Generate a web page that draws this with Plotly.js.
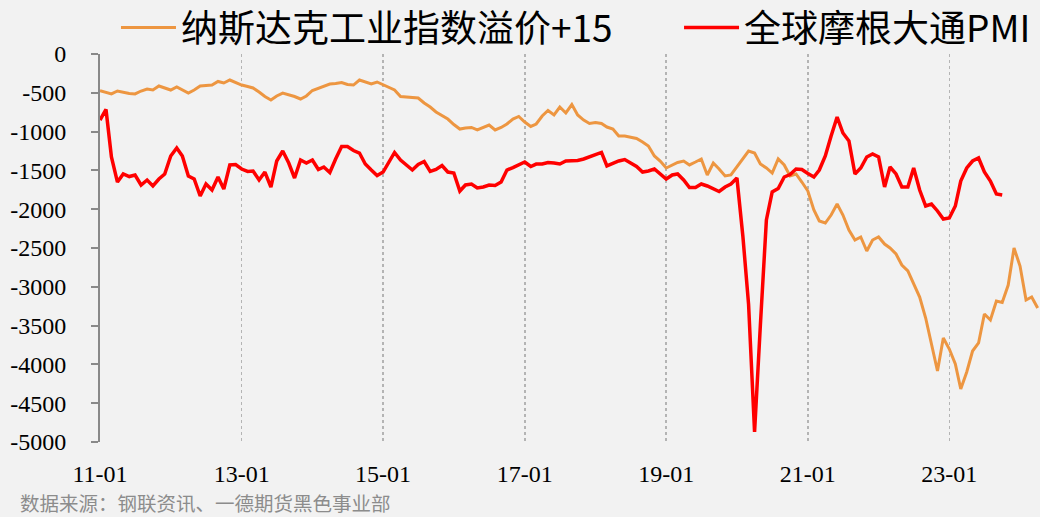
<!DOCTYPE html>
<html>
<head>
<meta charset="utf-8">
<script src="https://cdn.plot.ly/plotly-3.0.1.min.js"></script>
<style>
html,body{margin:0;padding:0;background:#f2f2f2;}
#chart{width:1040px;height:517px;}
</style>
</head>
<body>
<div id="chart"></div>
<script>
// Monthly data starting 2011-01
var startYear = 2011;
var nasdaqPremium = [
 -473,-490,-515,-477,-496,-509,-515,-477,-451,-464,-412,-438,
 -464,-425,-464,-503,-464,-412,-406,-400,-354,-374,-335,-367,
 -400,-419,-438,-490,-548,-593,-541,-503,-522,-548,-580,-541,
 -470,-438,-419,-387,-380,-367,-393,-400,-335,-361,-387,-361,
 -393,-425,-464,-548,-554,-561,-567,-631,-683,-747,-793,-838,
 -909,-967,-954,-947,-979,-947,-915,-979,-947,-902,-838,-805,
 -876,-934,-902,-799,-728,-786,-683,-760,-651,-786,-851,-896,
 -883,-896,-941,-967,-1057,-1057,-1070,-1089,-1134,-1186,-1314,-1379,
 -1469,-1437,-1398,-1379,-1430,-1392,-1353,-1559,-1405,-1482,-1572,-1559,
 -1456,-1353,-1250,-1276,-1418,-1469,-1534,-1353,-1430,-1572,-1546,-1650,
 -1766,-2010,-2152,-2178,-2075,-1933,-2075,-2268,-2397,-2358,-2539,-2397,
 -2358,-2449,-2500,-2577,-2719,-2796,-2964,-3132,-3402,-3750,-4085,-3660,
 -3802,-3995,-4317,-4098,-3827,-3724,-3351,-3428,-3183,-3202,-2977,-2500,
 -2732,-3170,-3132,-3273
];
var jpmPMI = [
 -851,-715,-1327,-1650,-1546,-1579,-1559,-1688,-1624,-1701,-1611,-1546,
 -1314,-1211,-1314,-1572,-1611,-1830,-1675,-1753,-1585,-1740,-1430,-1424,
 -1482,-1514,-1508,-1624,-1521,-1714,-1379,-1250,-1405,-1598,-1366,-1405,
 -1366,-1488,-1456,-1527,-1353,-1192,-1192,-1244,-1276,-1418,-1495,-1566,
 -1521,-1392,-1269,-1366,-1430,-1495,-1424,-1385,-1514,-1488,-1437,-1521,
 -1534,-1766,-1688,-1675,-1727,-1714,-1688,-1695,-1650,-1495,-1463,-1430,
 -1392,-1450,-1418,-1418,-1398,-1405,-1418,-1379,-1379,-1372,-1353,-1327,
 -1289,-1269,-1443,-1405,-1379,-1360,-1405,-1450,-1521,-1508,-1482,-1546,
 -1611,-1559,-1546,-1624,-1720,-1720,-1675,-1701,-1733,-1772,-1714,-1675,
 -1598,-2358,-3222,-4871,-3492,-2139,-1778,-1733,-1585,-1553,-1482,-1488,
 -1540,-1585,-1495,-1314,-1057,-812,-1018,-1121,-1546,-1469,-1327,-1289,
 -1327,-1714,-1456,-1546,-1714,-1714,-1469,-1753,-1959,-1933,-2023,-2126,
 -2113,-1959,-1637,-1469,-1379,-1340,-1521,-1637,-1804,-1817
];
var seriesNames = ['纳斯达克工业指数溢价+15', '全球摩根大通PMI'];
var yTicks = [0,-500,-1000,-1500,-2000,-2500,-3000,-3500,-4000,-4500,-5000];

function monthDates(n){
  var out = [];
  for (var i = 0; i < n; i++){
    var y = startYear + Math.floor(i/12);
    var m = (i % 12) + 1;
    out.push(y + '-' + (m < 10 ? '0' + m : m) + '-01');
  }
  return out;
}

var xRange = ['2011-01-01', '2024-04-13'];

var traces = [
  {x: monthDates(nasdaqPremium.length), y: nasdaqPremium, name: seriesNames[0], legend: 'legend',
   type: 'scatter', mode: 'lines', line: {color: '#ED9641', width: 3}},
  {x: monthDates(jpmPMI.length), y: jpmPMI, name: seriesNames[1], legend: 'legend2',
   type: 'scatter', mode: 'lines', line: {color: '#FF0000', width: 3.5}}
];

var legendFont = {family: 'Noto Sans CJK SC', size: 37, color: '#000'};

var layout = {
  width: 1040, height: 517,
  paper_bgcolor: '#f2f2f2', plot_bgcolor: '#f2f2f2',
  margin: {l: 100, r: 0, t: 54, b: 75, autoexpand: false},
  showlegend: true,
  legend: {orientation: 'h', x: 0.017, xanchor: 'left', y: 1.067, yanchor: 'middle',
           font: legendFont, bgcolor: 'rgba(0,0,0,0)', itemwidth: 55},
  legend2: {orientation: 'h', x: 0.616, xanchor: 'left', y: 1.067, yanchor: 'middle',
           font: legendFont, bgcolor: 'rgba(0,0,0,0)', itemwidth: 55},
  xaxis: {type: 'date', range: xRange, tick0: '2011-01-01', dtick: 'M24', tickformat: '%y-%m',
          showgrid: true, gridcolor: '#b4b4b4', griddash: 'dot', gridwidth: 1.5,
          showline: false, zeroline: false, ticks: '', ticklabelstandoff: 15,
          tickfont: {family: 'Liberation Serif', size: 24, color: '#000'}, fixedrange: true},
  xaxis2: {type: 'date', range: xRange, tick0: '2011-01-01', dtick: 'M24', overlaying: 'x',
           side: 'top', anchor: 'y', showgrid: false, showline: true, linecolor: '#898989', linewidth: 2,
           ticks: 'inside', ticklen: 6, tickwidth: 2, tickcolor: '#898989', showticklabels: false, zeroline: false},
  yaxis: {range: [-5000, 0], tickvals: yTicks, ticktext: yTicks.map(String),
          showgrid: false, zeroline: false, showline: true, linecolor: '#898989', linewidth: 2,
          ticks: 'outside', ticklen: 7, tickwidth: 2, tickcolor: '#898989', ticklabelstandoff: 20,
          tickfont: {family: 'Liberation Serif', size: 24, color: '#000'}},
  annotations: [{text: '数据来源：钢联资讯、一德期货黑色事业部', xref: 'paper', yref: 'paper',
                 x: -0.0872, xanchor: 'left', y: -0.155, yanchor: 'middle', showarrow: false,
                 font: {family: 'Noto Sans CJK SC', size: 19.5, color: '#8c8c8c'}}]
};

Plotly.newPlot('chart', traces, layout, {staticPlot: true});
</script>
</body>
</html>
